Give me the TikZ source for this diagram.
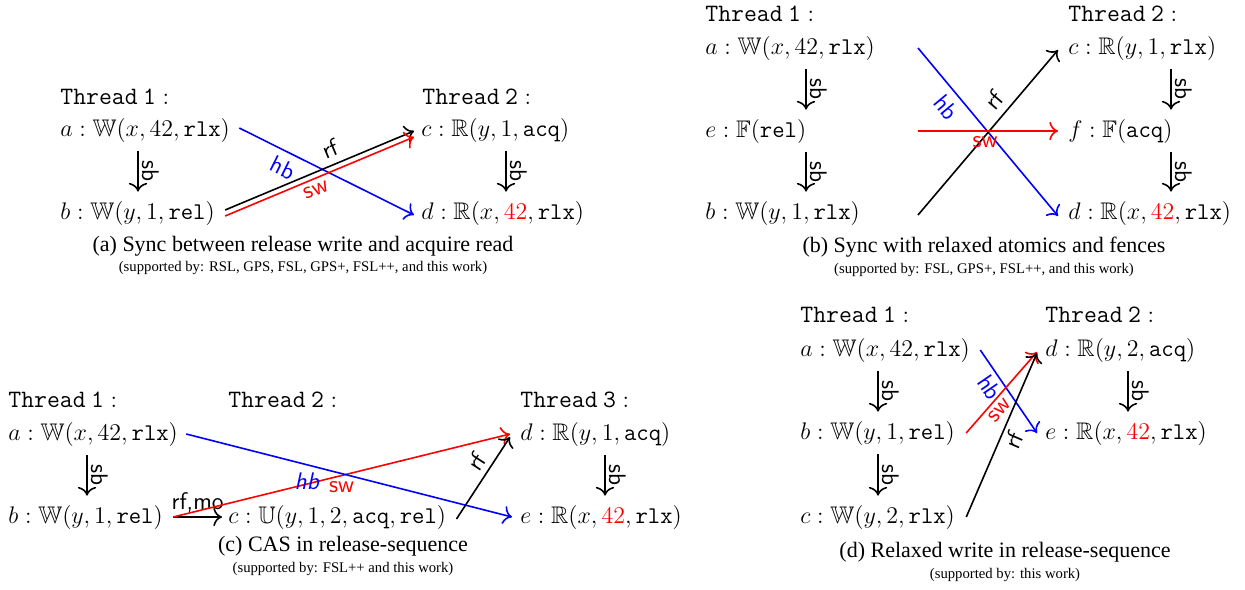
\documentclass[tikz,border=0pt]{standalone}
\usepackage{amssymb}
\usepackage{fontspec}
\newfontfamily\capfont{Liberation Serif}
\usetikzlibrary{calc,arrows.meta}
\newcommand{\thr}[1]{$\texttt{Thread\hspace{0.22em}#1}:$}
\begin{document}
\begin{tikzpicture}[x=0.5pt,y=-0.5pt,
  ev/.style={anchor=west,inner sep=0pt,font=\fontsize{12}{14}\selectfont},
  thd/.style={anchor=west,inner sep=0pt,font=\fontsize{12.5}{14}\selectfont},
  lbl/.style={font=\fontsize{12}{14}\selectfont\sffamily,inner sep=3.5pt},
  sblbl/.style={font=\fontsize{12}{14}\selectfont\sffamily,inner sep=1.5pt,midway,anchor=south,rotate=-90},
  captxt/.style={font=\capfont\fontsize{11}{13}\selectfont,inner sep=0pt},
  subcaptxt/.style={font=\capfont\fontsize{7.35}{9}\selectfont,inner sep=0pt},
  arr/.style={-{To[scale=1.3]},line width=0.8pt},
]
\useasboundingbox (0,0) rectangle (1245,589);

% ---------------- (a)
\node[thd] (aT1) at (60,97) {\thr{1}};
\node[thd] (aT2) at (422,97) {\thr{2}};
\node[ev] (aa) at (60,130) {$a:\mathbb{W}(x,42,\texttt{rlx})$};
\node[ev] (ab) at (60,213) {$b:\mathbb{W}(y,1,\texttt{rel})$};
\node[ev] (ac) at (421,130) {$c:\mathbb{R}(y,1,\texttt{acq})$};
\node[ev] (ad) at (421,213) {$d:\mathbb{R}(x,\textcolor{red}{42},\texttt{rlx})$};
\draw[arr] ($(aa.south west)+(78,9)$) -- ($(ab.north west)+(78,-9)$) node[sblbl]{sb};
\draw[arr] ($(ac.south west)+(85,9)$) -- ($(ad.north west)+(85,-9)$) node[sblbl]{sb};
\draw[arr,blue] ($(aa.east)+(9,-2)$) -- ($(ad.west)+(-7,2)$) node[lbl,pos=0.29,below,sloped]{hb};
\draw[arr] ($(ab.east)+(10,-3)$) -- ($(ac.west)+(-7,1)$) node[lbl,pos=0.59,above,sloped]{rf};
\draw[arr,red] ($(ab.east)+(10,3)$) -- ($(ac.west)+(-7,7)$) node[lbl,pos=0.46,below,sloped,inner sep=2.5pt]{sw};
\node[captxt] (acap) at (303,246) {(a) Sync between release write and acquire read};
\node[subcaptxt] (asub) at (303,268) {(supported by: RSL, GPS, FSL, GPS+, FSL++, and this work)};

% ---------------- (b)
\node[thd] (bT1) at (705,14) {\thr{1}};
\node[thd] (bT2) at (1068,14) {\thr{2}};
\node[ev] (ba) at (705,48) {$a:\mathbb{W}(x,42,\texttt{rlx})$};
\node[ev] (be) at (705,131) {$e:\mathbb{F}(\texttt{rel})$};
\node[ev] (bb) at (705,213) {$b:\mathbb{W}(y,1,\texttt{rlx})$};
\node[ev] (bc) at (1068,48) {$c:\mathbb{R}(y,1,\texttt{rlx})$};
\node[ev] (bf) at (1068,131) {$f:\mathbb{F}(\texttt{acq})$};
\node[ev] (bd) at (1068,213) {$d:\mathbb{R}(x,\textcolor{red}{42},\texttt{rlx})$};
\draw[arr] ($(ba.south west)+(101,9)$) -- ($(be.north west)+(101,-9)$) node[sblbl]{sb};
\draw[arr] ($(be.south west)+(101,9)$) -- ($(bb.north west)+(101,-9)$) node[sblbl]{sb};
\draw[arr] ($(bc.south west)+(103,9)$) -- ($(bf.north west)+(103,-9)$) node[sblbl]{sb};
\draw[arr] ($(bf.south west)+(103,9)$) -- ($(bd.north west)+(103,-9)$) node[sblbl]{sb};
\coordinate (bL) at (918,0);
\coordinate (bR) at (1058,0);
\draw[arr,blue] (ba.east -| bL) -- ($(bd.west -| bR)+(0,3)$) node[lbl,pos=0.29,below,sloped]{hb};
\draw[arr] ($(bb.east -| bL)+(0,2)$) -- ($(bc.west -| bR)+(0,2)$) node[lbl,pos=0.63,above,sloped]{rf};
\draw[arr,red] (be.east -| bL) -- (bf.west -| bR) node[lbl,pos=0.48,below,inner sep=2.5pt]{sw};
\node[captxt] (bcap) at (984,247) {(b) Sync with relaxed atomics and fences};
\node[subcaptxt] (bsub) at (984,270) {(supported by: FSL, GPS+, FSL++, and this work)};

% ---------------- (c)
\node[thd] (cT1) at (8,400) {\thr{1}};
\node[thd] (cT2) at (228,400) {\thr{2}};
\node[thd] (cT3) at (520,400) {\thr{3}};
\node[ev] (ca) at (8,434) {$a:\mathbb{W}(x,42,\texttt{rlx})$};
\node[ev] (cb) at (8,517) {$b:\mathbb{W}(y,1,\texttt{rel})$};
\node[ev] (cc) at (228,517) {$c:\mathbb{U}(y,1,2,\texttt{acq},\texttt{rel})$};
\node[ev] (cd) at (520,434) {$d:\mathbb{R}(y,1,\texttt{acq})$};
\node[ev] (ce) at (520,517) {$e:\mathbb{R}(x,\textcolor{red}{42},\texttt{rlx})$};
\draw[arr] ($(ca.south west)+(79,9)$) -- ($(cb.north west)+(79,-9)$) node[sblbl]{sb};
\draw[arr] ($(cd.south west)+(85,9)$) -- ($(ce.north west)+(85,-9)$) node[sblbl]{sb};
\draw[arr] ($(cb.east)+(10,0)$) -- ($(cc.west)+(-6,0)$) node[lbl,midway,above,inner sep=2pt]{rf,mo};
\draw[arr,red] ($(cb.east)+(10,0)$) -- ($(cd.west)+(-10,0)$) node[lbl,pos=0.5,below,inner sep=2.5pt]{sw};
\draw[arr,blue] ($(ca.east)+(8,0)$) -- ($(ce.west)+(-8,0)$) node[lbl,pos=0.37,below,font=\fontsize{12}{14}\selectfont\sffamily\slshape]{hb};
\draw[arr] ($(cc.east)+(10,2)$) -- ($(cd.west)+(-10,3)$) node[lbl,pos=0.6,above,sloped,inner sep=2.5pt]{rf};
\node[captxt] (ccap) at (343,546) {(c) CAS in release-sequence};
\node[subcaptxt] (csub) at (343,569) {(supported by: FSL++ and this work)};

% ---------------- (d)
\node[thd] (dT1) at (800,315) {\thr{1}};
\node[thd] (dT2) at (1045,315) {\thr{2}};
\node[ev] (da) at (800,350) {$a:\mathbb{W}(x,42,\texttt{rlx})$};
\node[ev] (db) at (800,433) {$b:\mathbb{W}(y,1,\texttt{rel})$};
\node[ev] (dc) at (800,517) {$c:\mathbb{W}(y,2,\texttt{rlx})$};
\node[ev] (dd) at (1045,350) {$d:\mathbb{R}(y,2,\texttt{acq})$};
\node[ev] (de) at (1045,433) {$e:\mathbb{R}(x,\textcolor{red}{42},\texttt{rlx})$};
\draw[arr] ($(da.south west)+(78,9)$) -- ($(db.north west)+(78,-9)$) node[sblbl]{sb};
\draw[arr] ($(db.south west)+(78,9)$) -- ($(dc.north west)+(78,-9)$) node[sblbl]{sb};
\draw[arr] ($(dd.south west)+(83,9)$) -- ($(de.north west)+(83,-9)$) node[sblbl]{sb};
\draw[arr,blue] ($(da.east)+(10,0)$) -- ($(de.west)+(-8,0)$) node[lbl,pos=0.36,below,sloped,inner sep=2pt]{hb};
\draw[arr,red] ($(db.east)+(11,0)$) -- ($(dd.west)+(-8,2)$) node[lbl,pos=0.36,below,sloped,inner sep=2pt]{sw};
\draw[arr] ($(dc.east)+(11,0)$) -- ($(dd.west)+(-8,3)$) node[lbl,pos=0.5,below,sloped,inner sep=2pt]{rf};
\node[captxt] (dcap) at (1005,552) {(d) Relaxed write in release-sequence};
\node[subcaptxt] (dsub) at (1005,575) {(supported by: this work)};
\end{tikzpicture}
\end{document}
